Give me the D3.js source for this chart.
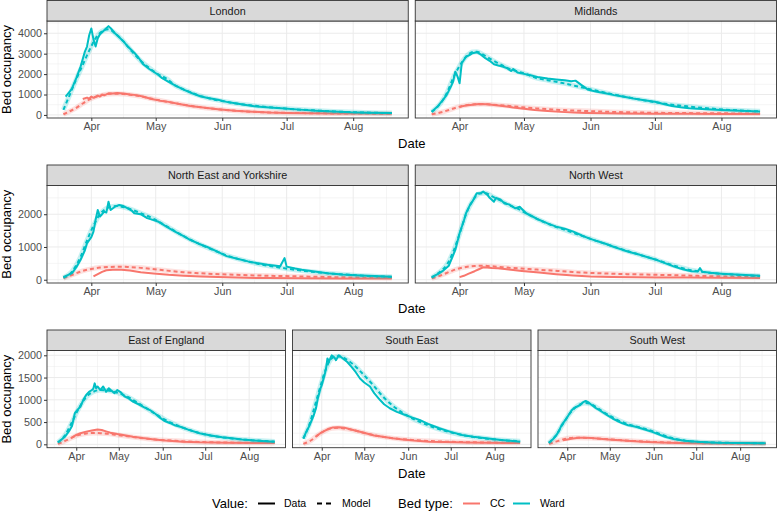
<!DOCTYPE html>
<html>
<head>
<meta charset="utf-8">
<script src="https://cdn.jsdelivr.net/npm/d3@7"></script>
<style>
  body { margin: 0; background: #fff; }
  svg { font-family: "Liberation Sans", Arial, sans-serif; display: block; }
</style>
</head>
<body>
<svg width="778" height="512"></svg>
<script>
// first day of the series (day 0)
const startDate = Date.UTC(2020, 2, 19);
const lastDay = 153;

// [day, value] pairs
const londonWardData = [[1,900],[3,1150],[4,1300],[6,1800],[8,2370],[10,3100],[11,3350],[12,3900],[13,4230],[14,3700],[15,3350],[16,3750],[17,3950],[19,4150],[21,4350],[22,4250],[24,4000],[26,3800],[28,3600],[30,3350],[33,3050],[35,2800],[37,2500],[40,2250],[44,1980],[46,1800],[49,1620],[52,1450],[56,1240],[60,1060],[64,900],[68,820],[72,740],[76,640],[80,570],[85,490],[90,410],[96,370],[103,320],[110,260],[118,210],[126,170],[134,130],[142,110],[153,100]];
const londonWardModel = [[0,250],[3,1000],[6,1750],[9,2450],[12,3150],[15,3750],[18,4100],[21,4200],[24,4000],[28,3600],[32,3100],[36,2650],[40,2300],[44,2000],[48,1780],[52,1450],[56,1250],[63,960],[70,760],[77,620],[84,510],[91,430],[98,360],[105,300],[112,250],[119,210],[126,170],[133,140],[140,120],[147,100],[153,90]];
const londonCCData = [[9,780],[11,850],[12,800],[13,900],[14,840],[16,950],[17,900],[18,1000],[19,960],[21,1060],[23,1050],[25,1070],[28,1050],[31,1000],[34,970],[37,900],[41,780],[45,700],[49,640],[54,540],[59,440],[65,360],[72,280],[80,210],[88,160],[96,120],[104,100],[115,85],[126,75],[140,65],[153,60]];
const londonCCModel = [[0,30],[3,180],[6,350],[9,560],[12,750],[15,880],[18,970],[21,1030],[25,1040],[28,1020],[32,980],[36,910],[40,820],[44,730],[48,650],[52,570],[56,500],[63,390],[70,300],[77,230],[84,180],[91,140],[98,115],[105,100],[119,80],[133,70],[153,60]];

const midlandsWardData = [[0,160],[3,440],[5,700],[7,980],[9,1400],[10,1630],[11,2120],[12,1900],[13,1550],[14,2530],[16,2850],[18,2950],[19,3020],[21,3070],[23,2950],[25,2780],[27,2650],[29,2480],[31,2420],[33,2370],[35,2300],[37,2150],[38,2250],[40,2080],[43,2010],[46,1940],[50,1840],[54,1780],[58,1740],[62,1700],[65,1650],[67,1680],[70,1450],[73,1230],[77,1130],[81,1060],[85,970],[89,900],[94,800],[99,720],[104,650],[108,540],[112,440],[116,380],[120,330],[128,280],[135,245],[144,200],[153,165]];
const midlandsWardModel = [[0,150],[4,550],[7,1060],[10,1800],[13,2400],[16,2850],[19,3080],[21,3100],[24,2950],[28,2700],[32,2470],[36,2270],[40,2130],[44,2000],[49,1800],[54,1700],[59,1600],[63,1520],[67,1420],[72,1300],[77,1180],[84,1020],[91,870],[98,730],[105,610],[112,500],[119,420],[126,350],[133,290],[140,240],[147,200],[153,175]];
const midlandsCCData = [[13,380],[14,420],[16,460],[19,500],[22,530],[26,520],[30,480],[34,430],[38,360],[43,300],[48,240],[54,190],[60,150],[66,120],[72,100],[80,85],[90,70],[104,60],[120,55],[135,50],[153,45]];
const midlandsCCModel = [[0,30],[4,120],[8,240],[12,380],[16,470],[20,520],[24,530],[28,510],[35,450],[42,380],[49,320],[56,270],[63,230],[70,200],[77,175],[84,150],[91,130],[98,115],[105,105],[119,90],[133,80],[153,70]];

const neyWardData = [[0,80],[4,200],[6,380],[8,610],[10,900],[11,1120],[13,1300],[14,1470],[15,1830],[16,2130],[17,1930],[18,2000],[19,2080],[20,2050],[21,2380],[22,2130],[24,2230],[26,2280],[28,2250],[30,2180],[32,2100],[33,2030],[36,2000],[39,1880],[42,1820],[44,1780],[48,1620],[52,1470],[56,1330],[59,1220],[63,1100],[67,1000],[72,850],[76,720],[81,640],[86,560],[90,510],[95,460],[101,410],[103,660],[104,400],[108,340],[111,305],[117,250],[123,200],[130,160],[136,135],[145,110],[153,90]];
const neyWardModel = [[0,60],[4,250],[8,700],[11,1200],[14,1650],[17,2000],[21,2200],[25,2250],[30,2180],[35,2060],[42,1860],[49,1600],[56,1330],[63,1100],[70,900],[77,720],[84,590],[91,480],[98,400],[105,330],[112,270],[119,220],[126,180],[133,150],[140,120],[147,100],[153,90]];
const neyCCData = [[14,100],[16,170],[18,240],[20,290],[23,305],[27,305],[31,280],[36,230],[42,190],[49,150],[56,125],[64,100],[72,80],[80,65],[95,50],[110,45],[130,40],[153,35]];
const neyCCModel = [[0,50],[3,120],[6,200],[9,270],[13,330],[17,370],[21,390],[26,395],[30,390],[35,370],[41,330],[48,280],[56,230],[63,200],[70,175],[80,150],[90,130],[100,115],[111,100],[125,80],[140,65],[153,55]];

const nwWardData = [[0,80],[3,180],[5,260],[8,430],[11,910],[13,1420],[15,1800],[16,2030],[18,2300],[19,2390],[21,2640],[23,2650],[24,2690],[26,2590],[27,2500],[29,2380],[30,2500],[32,2450],[34,2330],[36,2300],[39,2180],[41,2230],[44,2030],[47,1930],[50,1830],[54,1720],[58,1620],[62,1560],[66,1470],[70,1350],[73,1270],[77,1180],[81,1100],[85,1000],[89,910],[93,830],[97,760],[101,680],[105,600],[109,500],[113,400],[117,320],[121,260],[124,250],[125,355],[126,240],[130,210],[135,185],[144,150],[153,120]];
const nwWardModel = [[0,60],[4,250],[7,450],[10,850],[13,1400],[16,2000],[19,2400],[22,2620],[25,2650],[28,2550],[32,2420],[36,2280],[40,2170],[44,2030],[49,1860],[56,1660],[63,1500],[70,1340],[77,1180],[84,1030],[91,880],[98,740],[105,600],[112,450],[119,320],[126,240],[133,190],[140,160],[147,135],[153,115]];
const nwCCData = [[13,80],[15,120],[17,180],[20,260],[22,320],[24,380],[26,370],[28,360],[31,350],[36,310],[42,270],[50,220],[58,170],[66,130],[74,100],[84,85],[95,75],[105,70],[120,65],[135,60],[153,55]];
const nwCCModel = [[0,40],[3,100],[6,180],[9,260],[12,330],[16,390],[20,420],[24,425],[28,410],[33,380],[42,340],[49,310],[56,280],[63,250],[70,220],[77,200],[84,185],[91,170],[98,160],[105,150],[112,140],[126,115],[140,95],[153,80]];

const eoeWardData = [[0,40],[3,120],[5,170],[8,300],[10,410],[12,700],[14,780],[16,850],[18,1000],[20,1110],[22,1180],[24,1220],[25,1250],[26,1370],[27,1260],[28,1300],[30,1220],[32,1300],[34,1180],[36,1260],[38,1200],[40,1150],[42,1220],[44,1180],[47,1080],[50,1030],[53,960],[57,900],[61,830],[65,770],[69,680],[72,600],[75,530],[79,480],[83,420],[87,390],[92,330],[100,250],[108,200],[116,160],[123,135],[130,110],[137,90],[144,75],[153,60]];
const eoeWardModel = [[0,40],[5,200],[10,500],[15,820],[20,1060],[25,1180],[30,1220],[35,1210],[42,1160],[49,1070],[56,940],[63,800],[70,660],[77,530],[84,430],[91,340],[98,270],[105,215],[112,175],[119,145],[126,120],[133,100],[140,85],[147,72],[153,62]];
const eoeCCData = [[10,150],[13,210],[16,250],[20,285],[24,310],[28,335],[31,320],[34,290],[37,262],[42,230],[48,200],[53,172],[60,140],[68,110],[76,85],[88,60],[100,45],[120,35],[153,30]];
const eoeCCModel = [[0,10],[4,60],[8,120],[12,180],[16,220],[20,245],[25,255],[30,250],[36,235],[42,210],[49,180],[56,150],[63,125],[70,105],[80,85],[90,65],[100,52],[115,42],[130,36],[153,30]];

const seWardData = [[0,130],[2,280],[4,400],[7,620],[9,820],[10,1000],[12,1250],[13,1330],[15,1560],[16,1700],[17,1930],[18,1850],[20,2000],[22,1950],[23,1890],[25,2000],[27,1950],[29,1900],[31,1850],[34,1740],[37,1620],[40,1480],[43,1390],[47,1300],[50,1150],[54,1000],[57,900],[61,810],[66,730],[72,660],[77,600],[82,550],[88,460],[96,360],[104,280],[112,210],[120,170],[129,135],[138,100],[146,80],[153,60]];
const seWardModel = [[0,130],[4,420],[8,850],[12,1300],[16,1700],[20,1930],[24,1980],[28,1950],[35,1800],[42,1580],[49,1340],[56,1080],[63,870],[70,710],[77,580],[84,480],[91,390],[98,320],[105,260],[112,210],[119,170],[126,140],[133,115],[140,95],[147,80],[153,70]];
const seCCData = [[9,180],[12,250],[15,300],[18,350],[21,380],[25,385],[29,375],[33,340],[38,300],[44,250],[50,200],[56,170],[63,135],[70,110],[78,85],[89,60],[100,50],[115,40],[130,35],[153,30]];
const seCCModel = [[0,10],[5,80],[10,200],[15,300],[20,360],[25,370],[30,350],[35,320],[40,280],[45,240],[50,205],[55,175],[60,150],[70,115],[80,90],[90,72],[100,60],[115,48],[130,40],[153,35]];

const swWardData = [[0,35],[3,120],[5,190],[7,290],[9,430],[12,560],[14,660],[16,760],[18,820],[20,850],[22,880],[24,940],[26,975],[28,940],[30,890],[33,820],[36,760],[39,700],[42,640],[45,580],[48,530],[52,470],[56,430],[59,410],[62,390],[66,350],[70,310],[73,280],[77,230],[82,170],[88,120],[96,80],[105,55],[119,37],[135,28],[153,22]];
const swWardModel = [[0,30],[5,200],[10,460],[15,700],[20,860],[25,930],[30,900],[35,800],[42,660],[49,540],[56,450],[63,390],[70,330],[77,250],[84,170],[91,110],[98,75],[105,55],[119,40],[133,30],[153,25]];
const swCCData = [[10,90],[13,110],[17,130],[21,145],[25,150],[30,140],[36,125],[42,110],[50,90],[58,75],[66,60],[74,45],[85,35],[100,25],[120,20],[153,15]];
const swCCModel = [[0,10],[5,60],[10,110],[15,140],[20,150],[30,140],[40,120],[50,95],[60,75],[70,60],[80,45],[100,30],[153,15]];

const regionNames = ["London", "Midlands", "North East and Yorkshire", "North West", "East of England", "South East", "South West"];
const regionSeries = [
  [londonCCData, londonCCModel, londonWardData, londonWardModel],
  [midlandsCCData, midlandsCCModel, midlandsWardData, midlandsWardModel],
  [neyCCData, neyCCModel, neyWardData, neyWardModel],
  [nwCCData, nwCCModel, nwWardData, nwWardModel],
  [eoeCCData, eoeCCModel, eoeWardData, eoeWardModel],
  [seCCData, seCCModel, seWardData, seWardModel],
  [swCCData, swCCModel, swWardData, swWardModel]
];
const bedTypes = ["CC", "Ward"];
const valueTypes = ["Data", "Model"];
const rowTicks = [[0, 1000, 2000, 3000, 4000], [0, 1000, 2000], [0, 500, 1000, 1500, 2000]];
const rowYDomain = [[-150, 4600], [-100, 2877], [-76, 2108]];

const colour = d3.scaleOrdinal().domain(bedTypes).range(["#F8766D", "#00BFC4"]);

// layout of the three rows
const rows = [
  { regions: [0, 1], top: 0.5, bottom: 118 },
  { regions: [2, 3], top: 165, bottom: 283 },
  { regions: [4, 5, 6], top: 330, bottom: 447.7 }
];
const left = 47, right = 776.5, gap = 7, stripH = 20.5;
const tickFont = 10.8, titleFont = 13;

const svg = d3.select("svg");
const day = d => new Date(startDate + d * 864e5);
const xDomain = [day(-lastDay * 0.05), day(lastDay * 1.05)];
const months = d3.utcMonth.range(Date.UTC(2020, 2, 1), Date.UTC(2020, 9, 1));
const monthMids = d3.pairs(months).map(([a, b]) => new Date((+a + +b) / 2));

rows.forEach((row, ri) => {
  const n = row.regions.length;
  const w = (right - left - gap * (n - 1)) / n;
  const plotTop = row.top + stripH;
  const y = d3.scaleLinear().domain(rowYDomain[ri]).range([row.bottom, plotTop]);
  const ticks = rowTicks[ri];
  const step = ticks[1] - ticks[0];
  const yMinor = ticks.concat([ticks[ticks.length - 1] + step]).map(t => t - step / 2)
    .filter(t => t > rowYDomain[ri][0] && t < rowYDomain[ri][1]);

  row.regions.forEach((reg, pi) => {
    const x0 = left + pi * (w + gap);
    const x = d3.scaleUtc().domain(xDomain).range([x0, x0 + w]);
    const g = svg.append("g");

    // background + grid
    g.append("rect").attr("x", x0).attr("y", plotTop).attr("width", w).attr("height", row.bottom - plotTop).attr("fill", "#fff");
    const grid = g.append("g").attr("stroke", "#ebebeb");
    grid.selectAll(".ym").data(yMinor).join("line")
      .attr("x1", x0).attr("x2", x0 + w).attr("y1", d => y(d)).attr("y2", d => y(d)).attr("stroke-width", 0.5);
    grid.selectAll(".xm").data(monthMids.filter(d => d > xDomain[0] && d < xDomain[1])).join("line")
      .attr("y1", plotTop).attr("y2", row.bottom).attr("x1", d => x(d)).attr("x2", d => x(d)).attr("stroke-width", 0.5);
    grid.selectAll(".yM").data(ticks).join("line")
      .attr("x1", x0).attr("x2", x0 + w).attr("y1", d => y(d)).attr("y2", d => y(d)).attr("stroke-width", 1);
    grid.selectAll(".xM").data(months.filter(d => d > xDomain[0] && d < xDomain[1])).join("line")
      .attr("y1", plotTop).attr("y2", row.bottom).attr("x1", d => x(d)).attr("x2", d => x(d)).attr("stroke-width", 1);

    // clip for lines
    const clipId = "clip" + reg;
    svg.append("clipPath").attr("id", clipId).append("rect")
      .attr("x", x0).attr("y", plotTop).attr("width", w).attr("height", row.bottom - plotTop);
    const lines = g.append("g").attr("clip-path", `url(#${clipId})`).attr("fill", "none");

    const lineData = d3.line().x(d => x(day(d[0]))).y(d => y(d[1]));
    const lineModel = d3.line().x(d => x(day(d[0]))).y(d => y(d[1])).curve(d3.curveMonotoneX);

    const [ccD, ccM, wD, wM] = regionSeries[reg];
    [[ccD, ccM, "CC"], [wD, wM, "Ward"]].forEach(([dat, mod, bt]) => {
      // model uncertainty band
      lines.append("path").attr("d", lineModel(mod)).attr("stroke", colour(bt))
        .attr("stroke-width", 5).attr("stroke-opacity", 0.22).attr("stroke-linejoin", "round");
      lines.append("path").attr("d", lineData(dat)).attr("stroke", colour(bt))
        .attr("stroke-width", 2).attr("stroke-linejoin", "round");
      lines.append("path").attr("d", lineModel(mod)).attr("stroke", colour(bt))
        .attr("stroke-width", 2).attr("stroke-dasharray", "4,3");
    });

    // panel border
    g.append("rect").attr("x", x0).attr("y", plotTop).attr("width", w).attr("height", row.bottom - plotTop)
      .attr("fill", "none").attr("stroke", "#333").attr("stroke-width", 0.9);

    // strip
    g.append("rect").attr("x", x0).attr("y", row.top).attr("width", w).attr("height", stripH)
      .attr("fill", "#d9d9d9").attr("stroke", "#333").attr("stroke-width", 0.9);
    g.append("text").attr("x", x0 + w / 2).attr("y", row.top + stripH / 2).attr("dy", "0.35em")
      .attr("text-anchor", "middle").attr("font-size", tickFont).attr("fill", "#1a1a1a").text(regionNames[reg]);

    // x axis
    const xAxis = g.append("g").attr("transform", `translate(0,${row.bottom})`)
      .call(d3.axisBottom(x).tickValues(months.filter(d => d > xDomain[0] && d < xDomain[1]))
        .tickFormat(d3.utcFormat("%b")).tickSize(3).tickPadding(1.5));
    xAxis.select(".domain").remove();
    xAxis.selectAll(".tick line").attr("stroke", "#333");
    xAxis.selectAll(".tick text").attr("font-size", tickFont).attr("fill", "#4d4d4d").attr("font-family", null);

    // y axis only on the first panel
    if (pi === 0) {
      const yAxis = g.append("g").attr("transform", `translate(${x0},0)`)
        .call(d3.axisLeft(y).tickValues(ticks).tickFormat(d3.format("d")).tickSize(3).tickPadding(2));
      yAxis.select(".domain").remove();
      yAxis.selectAll(".tick line").attr("stroke", "#333");
      yAxis.selectAll(".tick text").attr("font-size", tickFont).attr("fill", "#4d4d4d").attr("font-family", null);
    }
  });

  // axis titles
  svg.append("text").attr("transform", `translate(11,${(plotTop + row.bottom) / 2}) rotate(-90)`)
    .attr("text-anchor", "middle").attr("font-size", titleFont).attr("fill", "#000").text("Bed occupancy");
  svg.append("text").attr("x", (left + right) / 2).attr("y", row.bottom + 30)
    .attr("text-anchor", "middle").attr("font-size", titleFont).attr("fill", "#000").text("Date");
});

// legend
const legY = 503.5;
const leg = svg.append("g");
leg.append("text").attr("x", 212).attr("y", legY).attr("dy", "0.35em").attr("font-size", titleFont).text("Value:");
valueTypes.forEach((v, i) => {
  const lx = [258, 317][i];
  leg.append("line").attr("x1", lx).attr("x2", lx + 17).attr("y1", legY).attr("y2", legY)
    .attr("stroke", "#000").attr("stroke-width", 2).attr("stroke-dasharray", i ? "5,4" : null);
  leg.append("text").attr("x", [284, 342][i]).attr("y", legY).attr("dy", "0.35em").attr("font-size", 10.5).text(v);
});
leg.append("text").attr("x", 398).attr("y", legY).attr("dy", "0.35em").attr("font-size", titleFont).text("Bed type:");
bedTypes.forEach((b, i) => {
  const lx = [463, 513][i];
  leg.append("line").attr("x1", lx).attr("x2", lx + 17).attr("y1", legY).attr("y2", legY)
    .attr("stroke", colour(b)).attr("stroke-width", 2);
  leg.append("text").attr("x", [490, 540][i]).attr("y", legY).attr("dy", "0.35em").attr("font-size", 10.5).text(b);
});
</script>
</body>
</html>
